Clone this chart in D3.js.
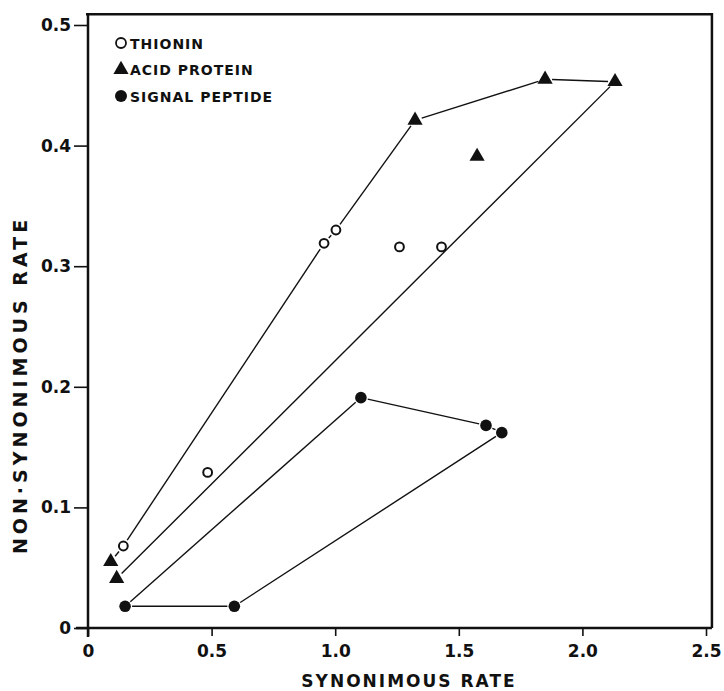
<!DOCTYPE html>
<html lang="en">
<head>
    <meta charset="UTF-8">
    <title>Synonymous vs non-synonymous rate</title>
    <script src="https://d3js.org/d3.v7.min.js"></script>
    <style>
        body {
            margin: 0;
            background: #fff;
        }
        svg text {
            font-family: "DejaVu Sans", "Liberation Sans", Arial, sans-serif;
            font-weight: bold;
            fill: #111;
        }
    </style>
</head>
<body>
    <svg id="chart" width="724" height="691"></svg>

    <script>
        // values
        const thionin = [[0.143, 0.068], [0.484, 0.129], [0.955, 0.319], [1.003, 0.330], [1.26, 0.316], [1.43, 0.316]];
        const acidProtein = [[0.092, 0.055], [0.116, 0.041], [1.323, 0.421], [1.574, 0.391], [1.849, 0.455], [2.132, 0.453]];
        const signalPeptide = [[0.150, 0.018], [0.592, 0.018], [1.104, 0.191], [1.61, 0.168], [1.674, 0.162]];

        // envelope lines drawn round the groups
        const outerEnvelope = [[0.092, 0.055], [0.143, 0.068], [0.955, 0.319], [1.003, 0.330], [1.323, 0.421], [1.849, 0.455], [2.132, 0.453], [0.116, 0.041]];
        const signalEnvelope = [[0.150, 0.018], [1.104, 0.191], [1.61, 0.168], [1.674, 0.162], [0.592, 0.018], [0.150, 0.018]];

        const xTicks = [0, 0.5, 1.0, 1.5, 2.0, 2.5];
        const xTickLabels = ["0", "0.5", "1.0", "1.5", "2.0", "2.5"];
        const yTicks = [0, 0.1, 0.2, 0.3, 0.4, 0.5];
        const yTickLabels = ["0", "0.1", "0.2", "0.3", "0.4", "0.5"];
        const legendLabels = ["THIONIN", "ACID PROTEIN", "SIGNAL PEPTIDE"];

        const svg = d3.select("#chart");

        const x = d3.scaleLinear().domain([0, 2.5]).range([88, 706]);
        const y = d3.scaleLinear().domain([0, 0.5]).range([628, 25]);
        const xMax = 2.524, yMax = 0.509;

        // frame: top and right
        svg.append("path")
            .attr("d", `M${x(0) - 2},${y(yMax)} H${x(xMax)} V${y(0)}`)
            .attr("fill", "none")
            .attr("stroke", "#111")
            .attr("stroke-width", 2.5);

        // axes
        const xAxis = svg.append("g")
            .attr("transform", `translate(0,${y(0)})`)
            .call(d3.axisBottom(x).tickValues(xTicks).tickFormat((d, i) => xTickLabels[i]).tickSize(8).tickPadding(9));
        const yAxis = svg.append("g")
            .attr("transform", `translate(${x(0)},0)`)
            .call(d3.axisLeft(y).tickValues(yTicks).tickFormat((d, i) => yTickLabels[i]).tickSize(14).tickPadding(3));

        [xAxis, yAxis].forEach(g => {
            g.select(".domain").attr("stroke", "#111").attr("stroke-width", 2.5);
            g.selectAll(".tick line").attr("stroke", "#111").attr("stroke-width", 1.6);
            g.selectAll(".tick text").attr("font-size", 17).attr("fill", "#111");
        });
        // the axis lines run just past the origin like in the scan
        xAxis.select(".domain").attr("d", `M${x(0) - 12},0H${x(xMax)}`);
        yAxis.select(".domain").attr("d", `M0,${y(yMax)}V${y(0) + 9}`);

        // axis titles
        svg.append("text")
            .attr("x", 409)
            .attr("y", 687)
            .attr("text-anchor", "middle")
            .attr("font-size", 17)
            .attr("letter-spacing", 2)
            .text("SYNONIMOUS RATE");

        svg.append("text")
            .attr("transform", "translate(27,385) rotate(-90)")
            .attr("text-anchor", "middle")
            .attr("font-size", 19)
            .attr("letter-spacing", 4)
            .text("NON·SYNONIMOUS RATE");

        // envelope lines, stopped short of the markers
        function drawEnvelope(pts) {
            const gap = 7;
            for (let i = 0; i < pts.length - 1; i++) {
                const x1 = x(pts[i][0]), y1 = y(pts[i][1]);
                const x2 = x(pts[i + 1][0]), y2 = y(pts[i + 1][1]);
                const len = Math.hypot(x2 - x1, y2 - y1);
                const ux = (x2 - x1) / len, uy = (y2 - y1) / len;
                svg.append("line")
                    .attr("x1", x1 + ux * gap)
                    .attr("y1", y1 + uy * gap)
                    .attr("x2", x2 - ux * gap)
                    .attr("y2", y2 - uy * gap)
                    .attr("stroke", "#111")
                    .attr("stroke-width", 1.4);
            }
        }
        drawEnvelope(outerEnvelope);
        drawEnvelope(signalEnvelope);

        const triangle = d3.symbol().type(d3.symbolTriangle).size(100);

        // points
        svg.selectAll(".thionin")
            .data(thionin)
            .join("circle")
            .attr("class", "thionin")
            .attr("cx", d => x(d[0]))
            .attr("cy", d => y(d[1]))
            .attr("r", 4.4)
            .attr("fill", "#fff")
            .attr("stroke", "#111")
            .attr("stroke-width", 2);

        svg.selectAll(".acid")
            .data(acidProtein)
            .join("path")
            .attr("class", "acid")
            .attr("d", triangle)
            .attr("transform", d => `translate(${x(d[0])},${y(d[1])})`)
            .attr("fill", "#111");

        svg.selectAll(".signal")
            .data(signalPeptide)
            .join("circle")
            .attr("class", "signal")
            .attr("cx", d => x(d[0]))
            .attr("cy", d => y(d[1]))
            .attr("r", 5.8)
            .attr("fill", "#111");

        // legend
        const legend = svg.append("g").attr("transform", "translate(121,43)");
        const rowH = 26.5;
        legend.append("circle").attr("cx", 0).attr("cy", 0).attr("r", 5)
            .attr("fill", "#fff").attr("stroke", "#111").attr("stroke-width", 1.8);
        legend.append("path").attr("d", triangle).attr("transform", `translate(0,${rowH})`).attr("fill", "#111");
        legend.append("circle").attr("cx", 0).attr("cy", rowH * 2).attr("r", 6).attr("fill", "#111");
        legend.selectAll(".legend-label")
            .data(legendLabels)
            .join("text")
            .attr("class", "legend-label")
            .attr("x", 9)
            .attr("y", (d, i) => i * rowH + 5.5)
            .attr("font-size", 14)
            .attr("letter-spacing", 1)
            .text(d => d);
    </script>
</body>
</html>
